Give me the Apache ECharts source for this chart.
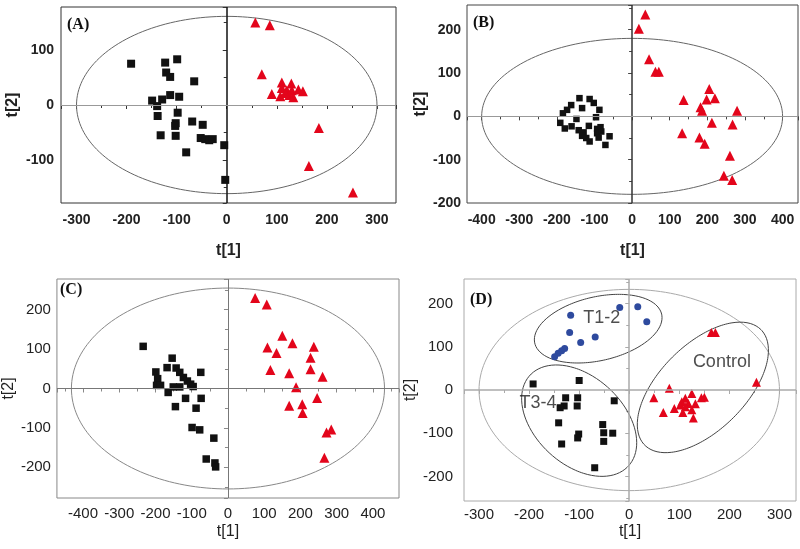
<!DOCTYPE html>
<html><head><meta charset="utf-8">
<script src="https://cdn.jsdelivr.net/npm/echarts@6/dist/echarts.min.js"></script>
<style>html,body{margin:0;padding:0;background:#fff}#c{width:800px;height:549px}</style>
</head><body><div id="c"></div><script>
// ---------- data ----------
const panelLabels = ['(A)', '(B)', '(C)', '(D)'];
const axisNameX = 't[1]';
const axisNameY = 't[2]';

const aSquares = [[-191,75],[-123,77],[-99,83],[-121,59],[-113,51],[-65,43],[-113,18],[-95,15],[-149,8],[-129,10],[-139,-2],[-138,-20],[-98,-14],[-102,-33],[-103,-38],[-69,-30],[-48,-36],[-132,-55],[-102,-56],[-52,-60],[-43,-62],[-35,-64],[-28,-62],[-81,-86],[-5,-73],[-3,-136]];
const aTriangles = [[57,150],[86,145],[70,56],[90,20],[110,41],[110,31],[107,16],[120,27],[129,39],[130,27],[133,14],[125,18],[143,28],[152,25],[117,22],[184,-42],[164,-111],[252,-159]];

const bSquares = [[-140,42],[-113,40],[-162,26],[-102,31],[-133,19],[-173,15],[-87,15],[-184,7],[-148,-6],[-96,-2],[-191,-15],[-179,-28],[-161,-23],[-142,-32],[-129,-37],[-115,-22],[-133,-45],[-122,-50],[-113,-58],[-93,-29],[-84,-25],[-93,-39],[-82,-35],[-89,-49],[-60,-46],[-71,-66]];
const bTriangles = [[35,235],[18,202],[45,132],[62,103],[71,103],[205,63],[137,38],[198,39],[220,42],[182,21],[186,13],[279,13],[212,-15],[267,-19],[133,-39],[179,-49],[193,-63],[260,-91],[244,-137],[266,-147]];

const cSquares = [[-234,107],[-154,77],[-168,53],[-143,52],[-199,42],[-133,41],[-75,41],[-123,28],[-194,25],[-112,19],[-103,11],[-96,5],[-197,8],[-186,8],[-151,4],[-133,4],[-165,-10],[-117,-25],[-74,-25],[-145,-46],[-88,-50],[-99,-99],[-78,-105],[-39,-126],[-60,-179],[-36,-189],[-34,-199]];
const cTriangles = [[75,230],[107,213],[150,134],[178,115],[109,104],[134,90],[237,106],[228,78],[117,47],[169,39],[228,49],[261,30],[188,3],[246,-24],[169,-44],[205,-40],[206,-62],[272,-112],[285,-104],[266,-176]];

const dCircles = [[-117,173],[-19,191],[17,193],[35,158],[-119,133],[-68,123],[-97,110],[-129,96],[-135,91],[-142,85],[-149,77]];
const dSquares = [[-192,14],[-100,22],[-127,-18],[-103,-18],[-30,-25],[-104,-37],[-130,-37],[-138,-41],[-141,-76],[-53,-80],[-51,-99],[-33,-100],[-101,-102],[-103,-111],[-51,-119],[-135,-125],[-69,-180]];
const dTriangles = [[164,133],[172,133],[254,18],[80,4],[49,-18],[125,-8],[144,-18],[150,-17],[112,-19],[105,-27],[118,-31],[112,-39],[132,-32],[125,-46],[90,-43],[68,-52],[107,-52],[128,-65],[102,-35]];

// Hotelling ellipse radii (t1, t2) per panel
const mainEllipses = [[300,161],[400,180],[432,255],[300,233]];
// group ellipses in panel D: [cx, cy, semiMajor, semiMinor, angleDeg]
const groupEllipses = [[-62,142,130,64,13],[-100,-71,134,88,-43],[147,6,164,86,45]];
const groupNames = ['T1-2','T3-4','Control'];
const groupLabelPos = [[-55,166],[-182,-31],[185,64]];

// ---------- layout / style ----------
const grids = [
  {left:61, top:7, width:335, height:196},
  {left:467, top:5, width:331, height:198},
  {left:54, top:279, width:345, height:219},
  {left:464, top:279, width:332, height:222}
];
const xRanges = [[-331,338],[-439,441],[-472,472],[-330,333]];
const yRanges = [[-178,178],[-200,257],[-278,278],[-257,257]];
const xSplit = [5,8,9,5];
const ySplit = [5,5,5,5];
const borderCol = ['#333','#444','#888','#aaa'];
const bold = [true,true,false,false];
const labelSize = [14,14,15,15];
const xLabelMargin = [10,10,8,6];
const yLabelMargin = [7,6,6,11];
const xNameGap = [40,40,26,23];
const yNameGap = [40,36,34,35];
const vLine = [['#111',1.5],['#333',1.5],['#777',1],['#aaa',1.5]];
const hLine = [['#999',1],['#999',1],['#777',1],['#aaa',1.5]];
const ellCol = ['#666','#666','#888','#aaa'];
const sqSize = [8,6.5,7.5,7];
const triSize = [10,10,10,9];
const RED = '#e3051b', BLACK = '#111', BLUE = '#2e4a9e';
const FONT = 'Liberation Sans, Arial, sans-serif';
const yAspect = [1,1,1,1.154];

function ellipsePts(cx, cy, a, b, angDeg, k) {
  const pts = [];
  const th = angDeg * Math.PI / 180;
  for (let i = 0; i <= 180; i++) {
    const t = i / 180 * 2 * Math.PI;
    const px = a * Math.cos(t) * Math.cos(th) - b * Math.sin(t) * Math.sin(th);
    const py = a * Math.cos(t) * Math.sin(th) + b * Math.sin(t) * Math.cos(th);
    pts.push([cx + px, cy + py * k]);
  }
  return pts;
}

const squares = [aSquares, bSquares, cSquares, dSquares];
const triangles = [aTriangles, bTriangles, cTriangles, dTriangles];

const xAxes = [], yAxes = [], series = [], graphics = [];
for (let i = 0; i < 4; i++) {
  const fw = bold[i] ? 'bold' : 'normal';
  xAxes.push({
    gridIndex: i, type: 'value', min: xRanges[i][0], max: xRanges[i][1], splitNumber: xSplit[i],
    axisLine: {show: false}, splitLine: {show: false},
    axisTick: {show: true, length: 4, lineStyle: {color: borderCol[i]}},
    minorTick: {show: true, splitNumber: 2, length: 3, lineStyle: {color: borderCol[i]}},
    axisLabel: {showMinLabel: false, showMaxLabel: false, margin: xLabelMargin[i], color: '#222', fontSize: labelSize[i], fontWeight: fw, fontFamily: FONT},
    name: axisNameX, nameLocation: 'middle', nameGap: xNameGap[i],
    nameTextStyle: {color: '#222', fontSize: 16, fontWeight: fw, fontFamily: FONT}
  });
  yAxes.push({
    gridIndex: i, type: 'value', min: yRanges[i][0], max: yRanges[i][1], splitNumber: ySplit[i],
    axisLine: {show: false}, splitLine: {show: false},
    axisTick: {show: true, length: 4, lineStyle: {color: borderCol[i]}},
    minorTick: {show: true, splitNumber: 2, length: 3, lineStyle: {color: borderCol[i]}},
    axisLabel: {showMinLabel: i === 1, showMaxLabel: false, margin: yLabelMargin[i], color: '#222', fontSize: labelSize[i], fontWeight: fw, fontFamily: FONT},
    name: axisNameY, nameLocation: 'middle', nameGap: yNameGap[i], nameRotate: 90,
    nameTextStyle: {color: '#222', fontSize: 16, fontWeight: fw, fontFamily: FONT}
  });
  // main ellipse + crosshair
  series.push({
    type: 'line', xAxisIndex: i, yAxisIndex: i, z: 1, silent: true, symbol: 'none',
    data: ellipsePts(0, 0, mainEllipses[i][0], mainEllipses[i][1], 0, 1),
    lineStyle: {color: ellCol[i], width: 1},
    markLine: {
      silent: true, symbol: ['none','none'], label: {show: false}, animation: false,
      data: [
        {xAxis: 0, lineStyle: {color: vLine[i][0], width: vLine[i][1], type: 'solid'}},
        {yAxis: 0, lineStyle: {color: hLine[i][0], width: hLine[i][1], type: 'solid'}}
      ]
    }
  });
  series.push({type: 'scatter', xAxisIndex: i, yAxisIndex: i, z: 3, symbol: 'rect', symbolSize: sqSize[i], itemStyle: {color: BLACK, opacity: 1}, data: squares[i]});
  series.push({type: 'scatter', xAxisIndex: i, yAxisIndex: i, z: 3, symbol: 'triangle', symbolSize: triSize[i], itemStyle: {color: RED, opacity: 1}, data: triangles[i]});
  graphics.push({type: 'text', left: grids[i].left + 6, top: grids[i].top + [10,10,3,13][i],
    style: {text: panelLabels[i], font: 'bold 16px "Liberation Serif", "Times New Roman", serif', fill: '#111'}});
}
// panel D extras
series.push({type: 'scatter', xAxisIndex: 3, yAxisIndex: 3, z: 3, symbol: 'circle', symbolSize: 7, itemStyle: {color: BLUE, opacity: 1}, data: dCircles});
groupEllipses.forEach(function (e) {
  series.push({type: 'line', xAxisIndex: 3, yAxisIndex: 3, z: 2, silent: true, symbol: 'none',
    data: ellipsePts(e[0], e[1], e[2], e[3], e[4], yAspect[3]), lineStyle: {color: '#444', width: 1}});
});
series.push({type: 'scatter', xAxisIndex: 3, yAxisIndex: 3, z: 4, symbolSize: 0, silent: true,
  data: groupLabelPos.map(function (p, j) { return {value: p, name: groupNames[j]}; }),
  label: {show: true, position: 'inside', formatter: '{b}', color: '#222', fontSize: 18, fontFamily: FONT}});

const chart = echarts.init(document.getElementById('c'), null, {renderer: 'canvas'});
chart.setOption({
  animation: false,
  backgroundColor: '#fff',
  grid: grids.map(function (g, i) { return Object.assign({show: true, borderColor: borderCol[i], borderWidth: 1, backgroundColor: 'transparent'}, g); }),
  xAxis: xAxes, yAxis: yAxes, series: series, graphic: graphics
});
</script></body></html>
